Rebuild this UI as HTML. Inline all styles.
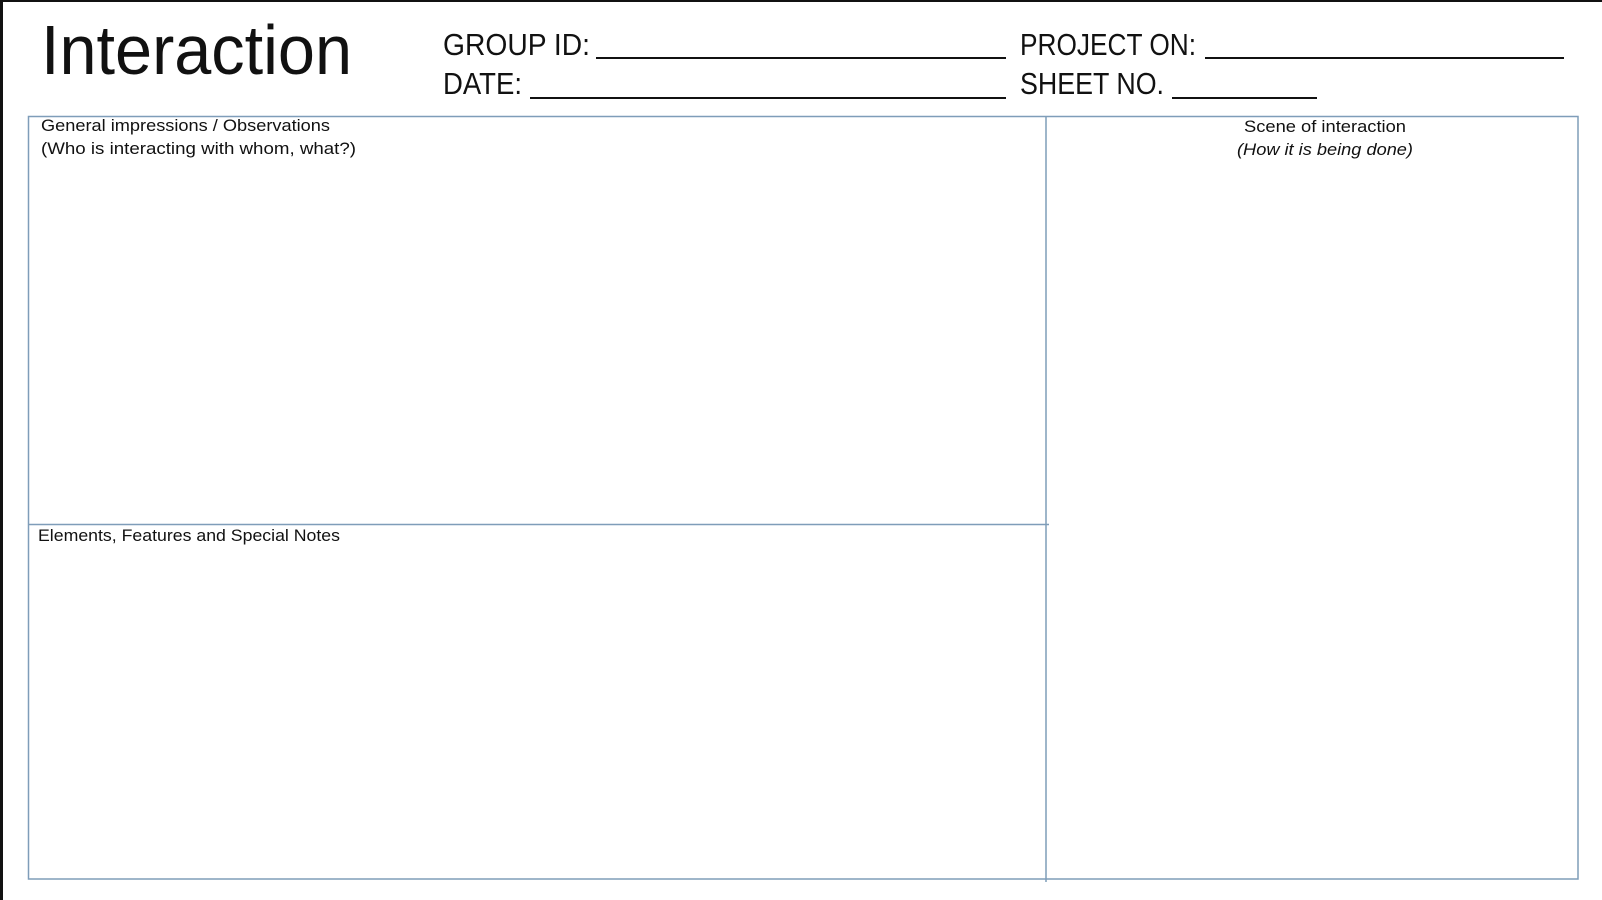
<!DOCTYPE html>
<html><head><meta charset="utf-8"><style>
html,body{margin:0;padding:0;background:#fff;width:1602px;height:900px;overflow:hidden}
svg{display:block}
text{font-family:"Liberation Sans",sans-serif;fill:#111}
</style></head><body>
<svg width="1602" height="900" viewBox="0 0 1602 900" xmlns="http://www.w3.org/2000/svg">
<rect x="0" y="0" width="1602" height="900" fill="#fff"/>
<rect x="0" y="0" width="3" height="900" fill="#111"/>
<rect x="0" y="0" width="1602" height="2" fill="#111"/>
<text x="41" y="74" font-size="70" textLength="311" lengthAdjust="spacingAndGlyphs">Interaction</text>
<text x="443" y="55" font-size="31" textLength="147" lengthAdjust="spacingAndGlyphs">GROUP ID:</text>
<text x="1020" y="55" font-size="31" textLength="176" lengthAdjust="spacingAndGlyphs">PROJECT ON:</text>
<text x="443" y="94" font-size="31" textLength="79" lengthAdjust="spacingAndGlyphs">DATE:</text>
<text x="1020" y="94" font-size="31" textLength="144" lengthAdjust="spacingAndGlyphs">SHEET NO.</text>
<g stroke="#111" stroke-width="2">
<line x1="596" y1="58" x2="1006" y2="58"/>
<line x1="1205" y1="58" x2="1564" y2="58"/>
<line x1="530" y1="98" x2="1006" y2="98"/>
<line x1="1172" y1="98" x2="1317" y2="98"/>
</g>
<g stroke="#7f9db9" stroke-width="1.5" fill="none">
<rect x="28.5" y="116.5" width="1549.5" height="762.5"/>
<line x1="1046" y1="116.5" x2="1046" y2="882"/>
<line x1="28.5" y1="524.5" x2="1049" y2="524.5"/>
</g>
<text x="41" y="131" font-size="17" textLength="289" lengthAdjust="spacingAndGlyphs">General impressions / Observations</text>
<text x="41" y="154" font-size="17" textLength="315" lengthAdjust="spacingAndGlyphs">(Who is interacting with whom,  what?)</text>
<text x="1244" y="132" font-size="17" textLength="162" lengthAdjust="spacingAndGlyphs">Scene of interaction</text>
<text x="1237" y="155" font-size="17" font-style="italic" textLength="176" lengthAdjust="spacingAndGlyphs">(How it is being done)</text>
<text x="38" y="541" font-size="17" textLength="302" lengthAdjust="spacingAndGlyphs">Elements, Features and Special Notes</text>
</svg>
</body></html>
